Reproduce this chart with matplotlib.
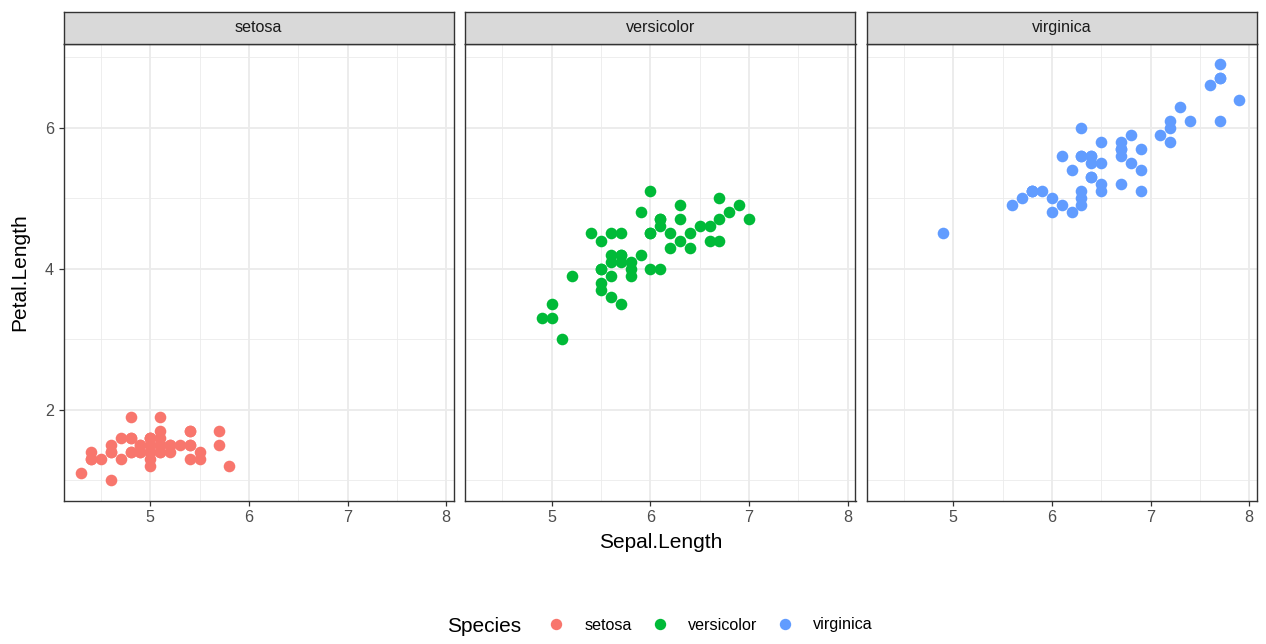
import matplotlib
matplotlib.use("Agg")
import matplotlib.pyplot as plt
from matplotlib.lines import Line2D
import numpy as np

plt.rcParams['font.family'] = ['Liberation Sans', 'DejaVu Sans']

species = ["setosa", "versicolor", "virginica"]
colors = ["#F8766D", "#00BA38", "#619CFF"]

setosa_sepal = [5.1,4.9,4.7,4.6,5.0,5.4,4.6,5.0,4.4,4.9,5.4,4.8,4.8,4.3,5.8,5.7,5.4,5.1,5.7,5.1,
                5.4,5.1,4.6,5.1,4.8,5.0,5.0,5.2,5.2,4.7,4.8,5.4,5.2,5.5,4.9,5.0,5.5,4.9,4.4,5.1,
                5.0,4.5,4.4,5.0,5.1,4.8,5.1,4.6,5.3,5.0]
setosa_petal = [1.4,1.4,1.3,1.5,1.4,1.7,1.4,1.5,1.4,1.5,1.5,1.6,1.4,1.1,1.2,1.5,1.3,1.4,1.7,1.5,
                1.7,1.5,1.0,1.7,1.9,1.6,1.6,1.5,1.4,1.6,1.6,1.5,1.5,1.4,1.5,1.2,1.3,1.4,1.3,1.5,
                1.3,1.3,1.3,1.6,1.9,1.4,1.6,1.4,1.5,1.4]
versicolor_sepal = [7.0,6.4,6.9,5.5,6.5,5.7,6.3,4.9,6.6,5.2,5.0,5.9,6.0,6.1,5.6,6.7,5.6,5.8,6.2,5.6,
                    5.9,6.1,6.3,6.1,6.4,6.6,6.8,6.7,6.0,5.7,5.5,5.5,5.8,6.0,5.4,6.0,6.7,6.3,5.6,5.5,
                    5.5,6.1,5.8,5.0,5.6,5.7,5.7,6.2,5.1,5.7]
versicolor_petal = [4.7,4.5,4.9,4.0,4.6,4.5,4.7,3.3,4.6,3.9,3.5,4.2,4.0,4.7,3.6,4.4,4.5,4.1,4.5,3.9,
                    4.8,4.0,4.9,4.7,4.3,4.4,4.8,5.0,4.5,3.5,3.8,3.7,3.9,5.1,4.5,4.5,4.7,4.4,4.1,4.0,
                    4.4,4.6,4.0,3.3,4.2,4.2,4.2,4.3,3.0,4.1]
virginica_sepal = [6.3,5.8,7.1,6.3,6.5,7.6,4.9,7.3,6.7,7.2,6.5,6.4,6.8,5.7,5.8,6.4,6.5,7.7,7.7,6.0,
                   6.9,5.6,7.7,6.3,6.7,7.2,6.2,6.1,6.4,7.2,7.4,7.9,6.4,6.3,6.1,7.7,6.3,6.4,6.0,6.9,
                   6.7,6.9,5.8,6.8,6.7,6.7,6.3,6.5,6.2,5.9]
virginica_petal = [6.0,5.1,5.9,5.6,5.8,6.6,4.5,6.3,5.8,6.1,5.1,5.3,5.5,5.0,5.1,5.3,5.5,6.7,6.9,5.0,
                   5.7,4.9,6.7,4.9,5.7,6.0,4.8,4.9,5.6,5.8,6.1,6.4,5.6,5.1,5.6,6.1,5.6,5.5,4.8,5.4,
                   5.6,5.1,5.1,5.9,5.7,5.2,5.0,5.2,5.4,5.1]

xs = [setosa_sepal, versicolor_sepal, virginica_sepal]
ys = [setosa_petal, versicolor_petal, virginica_petal]

x_ticks = [5, 6, 7, 8]
y_ticks = [2, 4, 6]
x_minor = [4.5, 5.5, 6.5, 7.5]
y_minor = [1, 3, 5, 7]

W, H = 1266, 644
fig = plt.figure(figsize=(W/100, H/100), dpi=100)
fig.patch.set_facecolor("white")

allx = np.concatenate([np.array(a) for a in xs])
ally = np.concatenate([np.array(a) for a in ys])
xr = allx.max() - allx.min(); yr = ally.max() - ally.min()
xlim = (allx.min() - 0.05*xr, allx.max() + 0.05*xr)
ylim = (ally.min() - 0.05*yr, ally.max() + 0.05*yr)

lefts = [63.5, 465, 866.5]
pw = 390.5
ptop = 43.5
pbot = 501
strip_top = 12

grey20 = "#333333"
grey30 = "#4D4D4D"
grid = "#EBEBEB"

TITLE = 15.0
SMALL = 11.6

for i, sp in enumerate(species):
    ax = fig.add_axes([lefts[i]/W, 1 - pbot/H, pw/W, (pbot - ptop)/H])
    ax.set_xlim(*xlim); ax.set_ylim(*ylim)
    for v in x_minor:
        ax.axvline(v, color=grid, lw=0.6, zorder=0)
    for v in y_minor:
        ax.axhline(v, color=grid, lw=0.6, zorder=0)
    for v in x_ticks:
        ax.axvline(v, color=grid, lw=1.3, zorder=0)
    for v in y_ticks:
        ax.axhline(v, color=grid, lw=1.3, zorder=0)
    ax.scatter(xs[i], ys[i], s=70, color=colors[i], linewidths=0, zorder=3)
    ax.set_xticks(x_ticks)
    ax.set_yticks(y_ticks)
    ax.tick_params(axis='both', length=3.3, width=0.9, color=grey20, labelcolor=grey30,
                   labelsize=SMALL, pad=3.5)
    if i > 0:
        ax.tick_params(axis='y', left=False, labelleft=False)
    for s in ax.spines.values():
        s.set_color(grey20); s.set_linewidth(1.0)
    ax.set_facecolor("white")
    # strip
    sax = fig.add_axes([lefts[i]/W, 1 - ptop/H, pw/W, (ptop - strip_top)/H])
    sax.set_facecolor("#D9D9D9")
    sax.set_xticks([]); sax.set_yticks([])
    for s in sax.spines.values():
        s.set_color(grey20); s.set_linewidth(1.0)
    sax.text(0.5, 0.5, sp, ha='center', va='center', fontsize=SMALL, color="#1A1A1A",
             transform=sax.transAxes)

fig.text((lefts[0] + lefts[2] + pw)/2/W, 1 - 542/H, "Sepal.Length", ha='center', va='center',
         fontsize=TITLE, color="black")
fig.text(20/W, 1 - (ptop + pbot)/2/H, "Petal.Length", ha='center', va='center',
         rotation=90, fontsize=TITLE, color="black")

fig.text(447/W, 1 - 626/H, "Species", ha='left', va='center', fontsize=TITLE, color="black")
handles = [Line2D([], [], marker='o', linestyle='none', markersize=8.2,
                  markerfacecolor=c, markeredgewidth=0) for c in colors]
fig.legend(handles, species, ncol=3, loc='center left', bbox_to_anchor=(548/W, 1 - 625/H),
           frameon=False, fontsize=SMALL, handlelength=1.05, handletextpad=1.25,
           columnspacing=1.16, borderpad=0, borderaxespad=0)

fig.savefig("out.png", dpi=100)
